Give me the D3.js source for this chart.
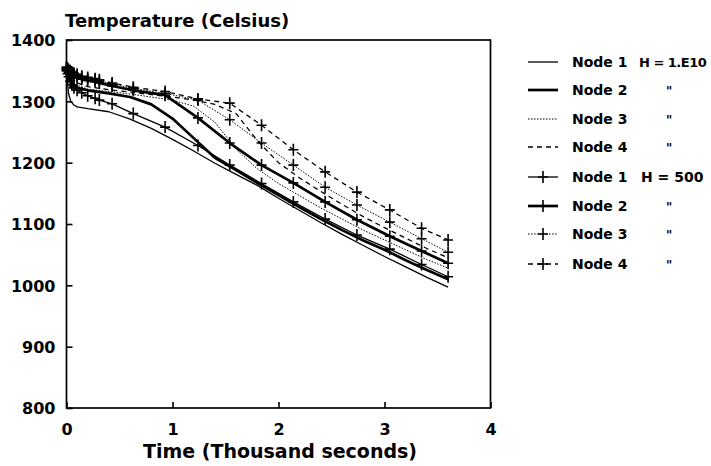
<!DOCTYPE html>
<html><head><meta charset="utf-8">
<script src="https://cdn.jsdelivr.net/npm/d3@7"></script>
<style>
body{margin:0;background:#fff}
svg{display:block}
text{font-family:"DejaVu Sans",sans-serif;font-weight:bold;fill:#000}
</style>
</head><body><svg id="c" width="711" height="466"></svg>
<script>
// ---- data ----
const xTicks = [0, 1, 2, 3, 4];
const yTicks = [800, 900, 1000, 1100, 1200, 1300, 1400];

// H = 1.E10 runs (no markers)
const timesH1E10 = [0, 0.01, 0.02, 0.04, 0.07, 0.1, 0.2, 0.4, 0.6, 0.8, 1.0, 1.2, 1.4, 1.6, 1.8, 2.0, 2.2, 2.4, 2.6, 2.8, 3.0, 3.2, 3.4, 3.6];
const node1H1E10 = [1352, 1330, 1312, 1300, 1294, 1291, 1288, 1283, 1271, 1256, 1238, 1219, 1199, 1181, 1163, 1142, 1122, 1102, 1083, 1065, 1047, 1030, 1013, 997];
const node2H1E10 = [1352, 1345, 1338, 1332, 1326, 1322, 1318, 1313, 1307, 1295, 1272, 1240, 1208, 1188, 1167, 1147, 1127, 1108, 1090, 1073, 1058, 1041, 1025, 1010];
const node3H1E10 = [1352, 1347, 1342, 1336, 1330, 1326, 1320, 1316, 1312, 1307, 1302, 1292, 1266, 1222, 1190, 1166, 1146, 1126, 1108, 1090, 1074, 1058, 1042, 1028];
const node4H1E10 = [1353, 1349, 1345, 1340, 1335, 1330, 1324, 1319, 1315, 1311, 1307, 1302, 1295, 1280, 1236, 1200, 1175, 1153, 1132, 1112, 1094, 1077, 1060, 1045];

// H = 500 runs (cross markers)
const timesH500 = [0, 0.01, 0.02, 0.035, 0.05, 0.07, 0.1, 0.144, 0.2, 0.27, 0.31, 0.43, 0.63, 0.93, 1.24, 1.54, 1.84, 2.14, 2.44, 2.74, 3.05, 3.35, 3.6];
const node1H500 = [1350, 1345, 1340, 1333, 1327, 1322, 1318, 1314, 1309, 1305, 1302, 1296, 1280, 1258, 1228, 1196, 1166, 1136, 1108, 1082, 1059, 1034, 1014];
const node2H500 = [1352, 1350, 1347, 1344, 1342, 1340, 1338, 1336, 1334, 1332, 1330, 1325, 1318, 1310, 1273, 1232, 1196, 1167, 1136, 1107, 1080, 1056, 1036];
const node3H500 = [1354, 1352, 1350, 1348, 1346, 1344, 1342, 1339, 1337, 1335, 1333, 1328, 1321, 1313, 1302, 1270, 1232, 1196, 1160, 1131, 1103, 1076, 1054];
const node4H500 = [1356, 1354, 1352, 1350, 1348, 1346, 1344, 1341, 1339, 1337, 1335, 1330, 1323, 1316, 1304, 1297, 1261, 1221, 1185, 1152, 1123, 1093, 1074];

const legendLabels = ["Node 1", "Node 2", "Node 3", "Node 4", "Node 1", "Node 2", "Node 3", "Node 4"];
const legendNotes = ["H = 1.E10", "\"", "\"", "\"", "H = 500", "\"", "\"", "\""];

// ---- styles ----
const lineStyles = [
  {w: 1.3, dash: null},
  {w: 2.7, dash: null},
  {w: 1.0, dash: "1.5,1.5"},
  {w: 1.3, dash: "5,4"}
];

const series = [
  {t: timesH1E10, v: node1H1E10, s: 0, mark: false},
  {t: timesH1E10, v: node2H1E10, s: 1, mark: false},
  {t: timesH1E10, v: node3H1E10, s: 2, mark: false},
  {t: timesH1E10, v: node4H1E10, s: 3, mark: false},
  {t: timesH500, v: node1H500, s: 0, mark: true},
  {t: timesH500, v: node2H500, s: 1, mark: true},
  {t: timesH500, v: node3H500, s: 2, mark: true},
  {t: timesH500, v: node4H500, s: 3, mark: true}
];

const svg = d3.select("#c");
const x = d3.scaleLinear().domain([0, 4]).range([66.5, 490.5]);
const y = d3.scaleLinear().domain([800, 1400]).range([408, 40]);

// frame
svg.append("rect")
  .attr("x", x(0)).attr("y", y(1400))
  .attr("width", x(4) - x(0)).attr("height", y(800) - y(1400))
  .attr("fill", "none").attr("stroke", "#000").attr("stroke-width", 1.7);

// axes
const gx = svg.append("g").attr("transform", `translate(0,${y(800)})`)
  .call(d3.axisBottom(x).tickValues(xTicks).tickFormat(d3.format("d")).tickSize(-6).tickSizeOuter(0));
gx.select(".domain").remove();
gx.selectAll(".tick line").attr("stroke", "#000").attr("stroke-width", 1.6);
gx.selectAll(".tick text").attr("y", 27).attr("dy", null)
  .style("font-size", "16px").style("font-family", "DejaVu Sans").style("font-weight", "bold");

const gy = svg.append("g").attr("transform", `translate(${x(0)},0)`)
  .call(d3.axisLeft(y).tickValues(yTicks).tickFormat(d3.format("d")).tickSize(-6).tickPadding(11).tickSizeOuter(0));
gy.select(".domain").remove();
gy.selectAll(".tick line").attr("stroke", "#000").attr("stroke-width", 1.6);
gy.selectAll(".tick text").attr("dy", "0.36em")
  .style("font-size", "16px").style("font-family", "DejaVu Sans").style("font-weight", "bold");

// titles
svg.append("text").attr("x", 65).attr("y", 27).style("font-size", "18px").text("Temperature (Celsius)");
svg.append("text").attr("x", 280).attr("y", 458).attr("text-anchor", "middle").style("font-size", "19px").text("Time (Thousand seconds)");

// lines
const line = d3.line().x(d => x(d[0])).y(d => y(d[1]));
const crossPath = "M-5,0H5M0,-6V6";
const plot = svg.append("g");
series.forEach(sr => {
  const pts = sr.t.map((t, i) => [t, sr.v[i]]);
  const st = lineStyles[sr.s];
  plot.append("path").datum(pts).attr("d", line)
    .attr("fill", "none").attr("stroke", "#000")
    .attr("stroke-width", st.w).attr("stroke-dasharray", st.dash)
    .attr("stroke-linejoin", "round");
  if (sr.mark) {
    plot.selectAll(null).data(pts).enter().append("path")
      .attr("d", crossPath)
      .attr("transform", d => `translate(${x(d[0])},${y(d[1])})`)
      .attr("stroke", "#000").attr("stroke-width", 1.6).attr("fill", "none");
  }
});

// legend
const lg = svg.append("g");
const rowY = [62, 90, 119, 147, 177, 206, 234, 264];
legendLabels.forEach((lab, i) => {
  const st = lineStyles[i % 4];
  const cy = rowY[i];
  lg.append("line").attr("x1", 528).attr("x2", 558).attr("y1", cy).attr("y2", cy)
    .attr("stroke", "#000").attr("stroke-width", st.w).attr("stroke-dasharray", st.dash);
  if (i >= 4) {
    lg.append("path").attr("d", crossPath).attr("transform", `translate(543,${cy})`)
      .attr("stroke", "#000").attr("stroke-width", 1.6);
  }
  lg.append("text").attr("x", 572).attr("y", cy + 5).style("font-size", "14px").text(lab);
  const note = legendNotes[i];
  if (note.startsWith("H")) {
    const long = note.length > 7;
    lg.append("text").attr("x", long ? 639 : 641).attr("y", cy + 5)
      .style("font-size", long ? "13px" : "14px")
      .style("letter-spacing", long ? "-0.5px" : null)
      .text(note);
  } else {
    lg.append("text").attr("x", 666).attr("y", cy + 5).style("font-size", "12px").text(note);
  }
});
</script>
</body></html>
